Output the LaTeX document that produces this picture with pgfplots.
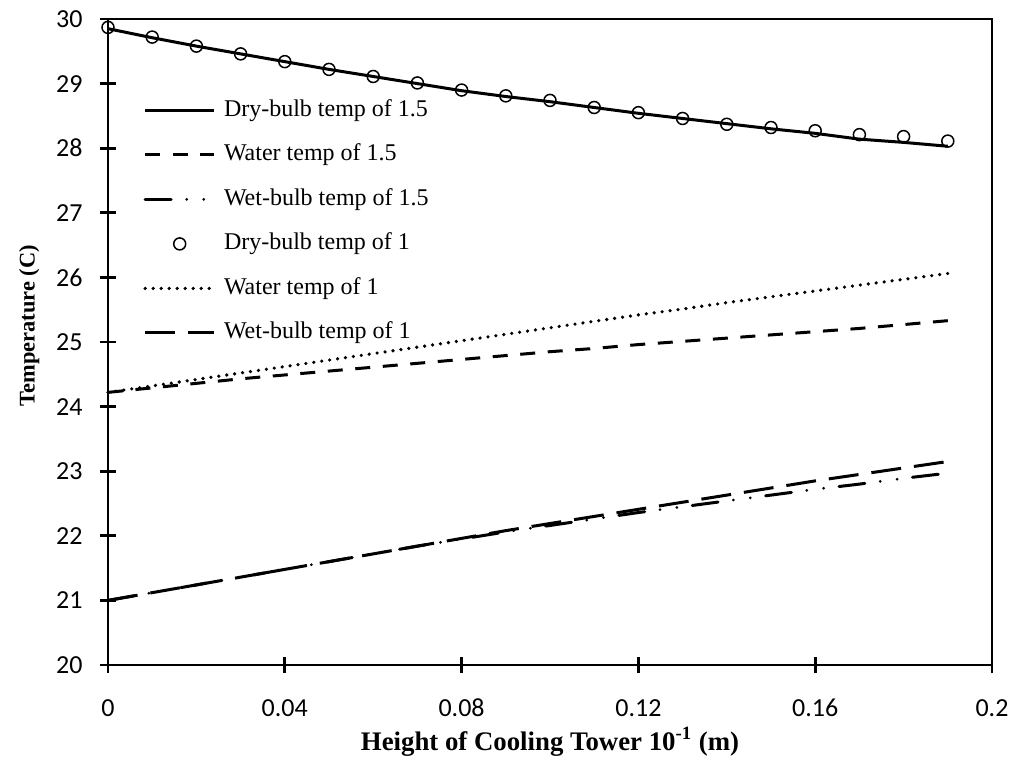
\documentclass[border=0pt]{standalone}
\usepackage{fontspec}
\setmainfont{Liberation Serif}
\newfontfamily\tickfont{Carlito}
\usepackage{pgfplots}
\usepackage{pgfplotstable}
\pgfplotsset{compat=1.18}

% Temperature profiles along the tower height for two flow ratios (1.5 and 1)
\pgfplotstableread{
x     db15   w15    wb15   db1    w1     wb1
0.00  29.85  24.22  21.00  29.87  24.22  21.00
0.01  29.71  24.29  21.12  29.72  24.32  21.12
0.02  29.58  24.36  21.24  29.58  24.42  21.24
0.03  29.46  24.43  21.36  29.46  24.52  21.36
0.04  29.34  24.49  21.48  29.34  24.62  21.48
0.05  29.22  24.55  21.60  29.22  24.72  21.60
0.06  29.11  24.61  21.72  29.11  24.82  21.72
0.07  29.00  24.67  21.84  29.01  24.92  21.84
0.08  28.89  24.73  21.95  28.90  25.02  21.96
0.09  28.80  24.79  22.06  28.81  25.12  22.08
0.10  28.72  24.85  22.16  28.74  25.22  22.19
0.11  28.63  24.90  22.26  28.63  25.32  22.30
0.12  28.54  24.96  22.36  28.55  25.42  22.41
0.13  28.46  25.01  22.45  28.46  25.51  22.52
0.14  28.38  25.06  22.54  28.37  25.61  22.63
0.15  28.30  25.11  22.63  28.32  25.70  22.74
0.16  28.23  25.16  22.72  28.27  25.79  22.85
0.17  28.14  25.21  22.80  28.21  25.88  22.95
0.18  28.09  25.27  22.89  28.18  25.97  23.05
0.19  28.03  25.33  22.97  28.11  26.06  23.15
}\profiles

\begin{document}
\begin{tikzpicture}
\path[use as bounding box] (-54pt,-47.5pt) rectangle (452pt,332.5pt);

% minor ticks, drawn outside the frame only
\begin{axis}[
  scale only axis, width=442pt, height=323pt,
  xmin=0, xmax=0.2, ymin=20, ymax=30,
  axis line style={draw=none},
  xtick=\empty, ytick=\empty,
  minor xtick={0.02,0.06,0.10,0.14,0.18},
  minor ytick={20.5,21.5,...,29.5},
  xtick pos=bottom, ytick pos=left,
  tick align=outside,
  minor tick length=3pt,
  tick style={black, line width=1.4pt},
]
\end{axis}

\begin{axis}[
  scale only axis, width=442pt, height=323pt,
  xmin=0, xmax=0.2, ymin=20, ymax=30,
  clip=false,
  axis line style={line width=1.4pt},
  xtick={0,0.04,0.08,0.12,0.16,0.2},
  xticklabels={0,0.04,0.08,0.12,0.16,0.2},
  ytick={20,21,...,30},
  xtick pos=bottom, ytick pos=left,
  tick align=center,
  major tick length=8pt,
  tick style={black, line width=1.4pt},
  /pgf/number format/assume math mode=true,
  xticklabel style={font=\tickfont\fontsize{13}{13}\selectfont, inner sep=0pt, anchor=base, yshift=-21.5pt},
  yticklabel style={font=\tickfont\fontsize{13}{13}\selectfont, inner sep=0pt, anchor=east, xshift=-8.5pt},
  xlabel={Height of Cooling Tower 10\textsuperscript{-1} (m)},
  xlabel style={font=\bfseries\fontsize{13.4}{14}\selectfont, at={(axis description cs:0.5,0)}, anchor=base, yshift=-42.5pt},
  ylabel={Temperature (C)},
  ylabel style={font=\bfseries\fontsize{11.2}{12}\selectfont, at={(axis description cs:-0.089,0.525)}, anchor=center},
  legend cell align=left,
  legend image code/.code={\draw[mark repeat=2, mark phase=2, #1] plot coordinates {(0pt,0pt) (17.25pt,0pt) (34.5pt,0pt)}; \path (38.5pt,0pt);},
  legend style={draw=none, fill=none, inner sep=0pt, row sep=10.25pt,
    font=\fontsize{12}{12}\selectfont,
    nodes={inner sep=0pt, text height=9pt, text depth=3pt},
    at={(axis description cs:0.0396,0.8777)}, anchor=north west},
  every axis plot/.append style={line width=1.5pt, black},
]
\addplot[solid] table[x=x, y=db15] {\profiles};
\addlegendentry{Dry-bulb temp of 1.5}
\addplot[dash pattern=on 7.5pt off 6.3pt] table[x=x, y=w15] {\profiles};
\addlegendentry{Water temp of 1.5}
\addplot[line cap=round, dash pattern=on 13pt off 7.75pt on 0pt off 8.5pt on 0pt off 7.75pt] table[x=x, y=wb15] {\profiles};
\addlegendentry{Wet-bulb temp of 1.5}
\addplot[only marks, mark=o, mark size=3pt, mark options={line width=0.75pt, solid}] table[x=x, y=db1] {\profiles};
\addlegendentry{Dry-bulb temp of 1}
\addplot[line width=1.8pt, line cap=round, dash pattern=on 0pt off 4pt] table[x=x, y=w1] {\profiles};
\addlegendentry{Water temp of 1}
\addplot[dash pattern=on 15pt off 6.5pt] table[x=x, y=wb1] {\profiles};
\addlegendentry{Wet-bulb temp of 1}
\end{axis}
\end{tikzpicture}
\end{document}
